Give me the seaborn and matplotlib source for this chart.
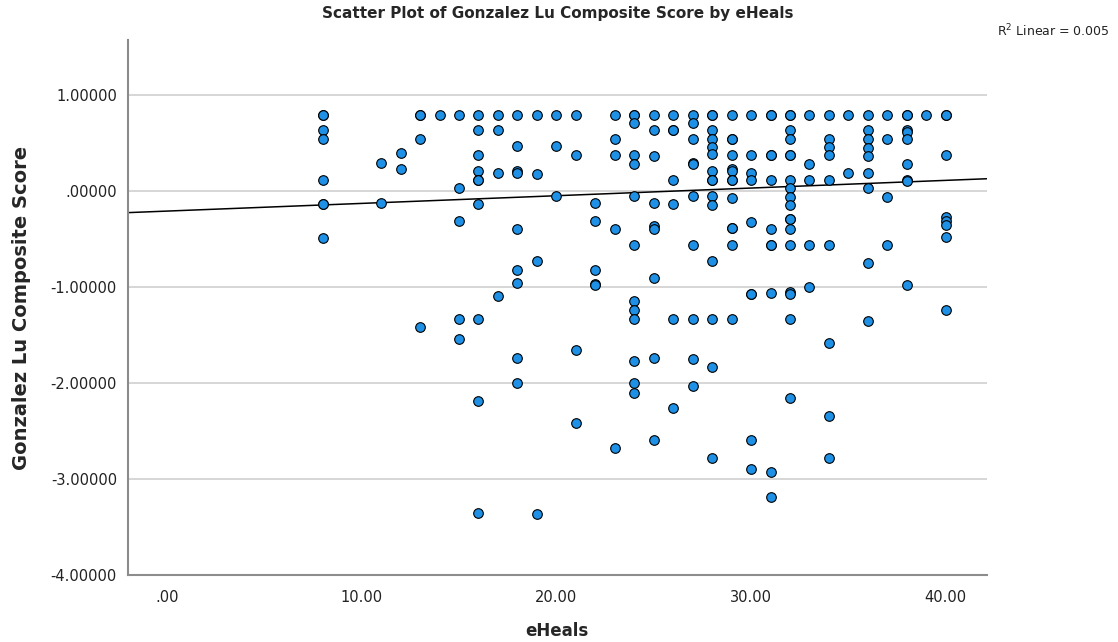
import numpy as np
import pandas as pd
import seaborn as sns
import matplotlib.pyplot as plt
from matplotlib.ticker import FuncFormatter, MultipleLocator

# eHeals levels and the composite scores for each level
eheals_levels = [8, 11, 12, 13, 14, 15, 16, 17, 18, 19, 20, 21, 22, 23, 24,
                 25, 26, 27, 28, 29, 30, 31, 32, 33, 34, 35, 36, 37, 38, 39, 40]
score_lists = [
    [0.79, 0.79, 0.63, 0.54, 0.11, -0.14, -0.14, -0.49],                   # 8
    [0.29, -0.13],                                                          # 11
    [0.40, 0.23],                                                           # 12
    [0.79, 0.79, 0.54, -1.42],                                              # 13
    [0.79],                                                                 # 14
    [0.79, 0.03, -0.31, -1.33, -1.54],                                      # 15
    [0.79, 0.63, 0.37, 0.21, 0.11, 0.11, -0.14, -1.33, -2.19, -3.35],       # 16
    [0.79, 0.63, 0.19, -1.09],                                              # 17
    [0.79, 0.47, 0.21, 0.19, -0.40, -0.82, -0.96, -1.74, -2.00],            # 18
    [0.79, 0.18, -0.73, -3.36],                                             # 19
    [0.79, 0.47, -0.05],                                                    # 20
    [0.79, 0.37, -1.66, -2.42],                                             # 21
    [-0.13, -0.31, -0.82, -0.97, -0.98],                                    # 22
    [0.79, 0.54, 0.37, -0.40, -2.68],                                       # 23
    [0.79, 0.79, 0.71, 0.37, 0.28, -0.05, -0.56, -1.15, -1.24, -1.33,
     -1.77, -2.00, -2.10],                                                  # 24
    [0.79, 0.63, 0.36, -0.13, -0.37, -0.40, -0.91, -1.74, -2.59],           # 25
    [0.79, 0.63, 0.63, 0.11, -0.14, -1.33, -2.26],                          # 26
    [0.79, 0.71, 0.54, 0.29, 0.28, -0.05, -0.56, -1.33, -1.75, -2.03],      # 27
    [0.79, 0.79, 0.63, 0.54, 0.46, 0.38, 0.21, 0.11, 0.11, -0.05, -0.15,
     -0.73, -1.33, -1.83, -2.78],                                           # 28
    [0.79, 0.54, 0.54, 0.37, 0.23, 0.21, 0.11, 0.11, -0.07, -0.39, -0.39,
     -0.56, -1.33],                                                         # 29
    [0.79, 0.37, 0.19, 0.11, -0.32, -1.07, -1.07, -2.59, -2.90],            # 30
    [0.79, 0.79, 0.37, 0.37, 0.11, -0.40, -0.56, -0.56, -1.06, -2.93, -3.19],  # 31
    [0.79, 0.79, 0.63, 0.54, 0.37, 0.37, 0.11, 0.03, -0.06, -0.15, -0.29,
     -0.29, -0.40, -0.56, -1.05, -1.07, -1.33, -2.16],                      # 32
    [0.79, 0.28, 0.11, -0.56, -1.00],                                       # 33
    [0.79, 0.54, 0.46, 0.37, 0.11, -0.56, -1.58, -2.34, -2.78],             # 34
    [0.79, 0.19],                                                           # 35
    [0.79, 0.63, 0.54, 0.45, 0.36, 0.19, 0.03, -0.75, -1.35],               # 36
    [0.79, 0.54, -0.06, -0.56],                                             # 37
    [0.79, 0.79, 0.63, 0.61, 0.54, 0.28, 0.11, 0.10, -0.98],                # 38
    [0.79],                                                                 # 39
    [0.79, 0.79, 0.37, -0.27, -0.31, -0.35, -0.48, -1.24],                  # 40
]

# total fit line as drawn in the chart (many points overlap, so read it directly)
fit_intercept = -0.21
fit_slope = 0.008
r2_label = "R$^2$ Linear = 0.005"

df = pd.DataFrame({
    "eHeals": np.repeat(eheals_levels, [len(s) for s in score_lists]),
    "score": np.concatenate(score_lists),
})

sns.set_style("white")
plt.rcParams["font.family"] = ["DejaVu Sans"]

fig = plt.figure(figsize=(11.18, 6.42), dpi=100)
ax = fig.add_axes([0.1145, 0.1044, 0.768, 0.833])
ax.set_xlim(-2.0, 42.1)
ax.set_ylim(-4.0, 1.57)

ax.axline((0, fit_intercept), slope=fit_slope, color="black", lw=1.1, zorder=2)
sns.scatterplot(data=df, x="eHeals", y="score", color="#1e90e6", edgecolor="black",
                linewidth=0.8, s=48, zorder=3, ax=ax)

ax.yaxis.set_major_locator(MultipleLocator(1.0))
ax.xaxis.set_major_locator(MultipleLocator(10.0))
ax.yaxis.grid(True, color="#cfcfcf", lw=1.2, zorder=0)
ax.xaxis.grid(False)
ax.set_axisbelow(True)

def fmt(v, ndp):
    s = f"{v:.{ndp}f}"
    if s.startswith("0."):
        s = s[1:]
    return s

ax.yaxis.set_major_formatter(FuncFormatter(lambda v, p: fmt(v, 5)))
ax.xaxis.set_major_formatter(FuncFormatter(lambda v, p: fmt(v, 2)))
ax.tick_params(axis="both", length=0, labelsize=10.5, colors="#222222", pad=8)
ax.tick_params(axis="x", pad=11)

for side in ["top", "right"]:
    ax.spines[side].set_visible(False)
for side in ["left", "bottom"]:
    ax.spines[side].set_color("#8c8c8c")
    ax.spines[side].set_linewidth(1.5)

ax.set_xlabel("eHeals", fontsize=12, fontweight="bold", labelpad=12)
ax.set_ylabel("Gonzalez Lu Composite Score", fontsize=14, fontweight="bold", labelpad=14)
ax.set_title("Scatter Plot of Gonzalez Lu Composite Score by eHeals",
             fontsize=11, fontweight="bold", pad=16)
fig.text(0.993, 0.952, r2_label, ha="right", va="center", fontsize=9, color="#222222")

fig.savefig("out.png", dpi=100)
